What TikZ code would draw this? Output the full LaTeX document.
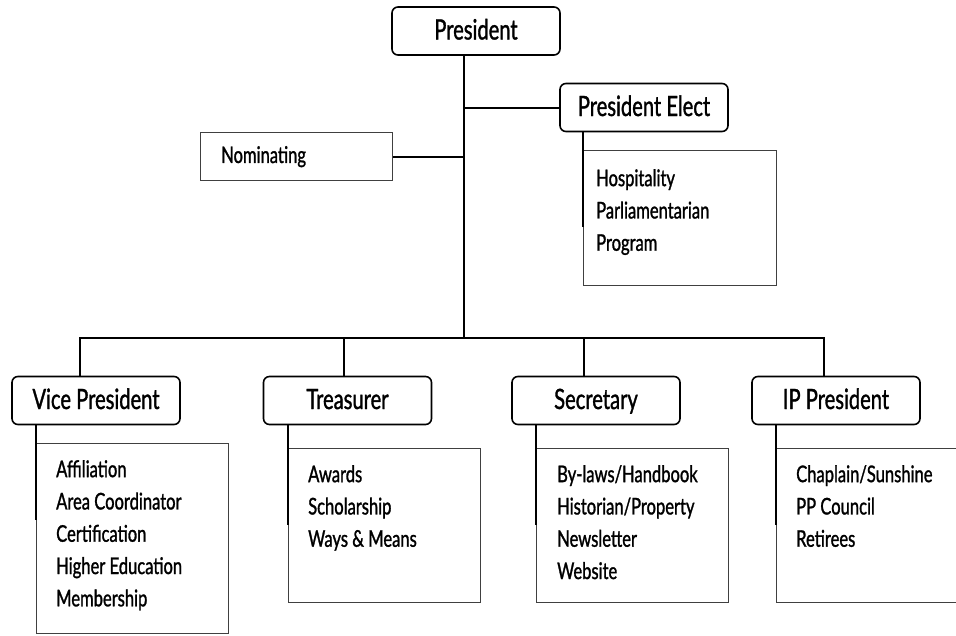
\documentclass[tikz,border=0pt]{standalone}
\usepackage{fontspec}
\setmainfont[FakeStretch=0.72,FakeBold=1.2]{Lato}
\usetikzlibrary{positioning,calc}
\tikzset{
  officer/.style = {shape=rectangle, rounded corners=6pt, draw, line width=1.6pt,
                    minimum width=168pt, minimum height=48pt, inner sep=0pt,
                    text height=21pt, text depth=4pt,
                    font=\fontsize{28}{30}\selectfont},
  cmtebox/.style = {shape=rectangle, draw=black!75, line width=1.3pt,
                    minimum width=192pt, anchor=north west, inner sep=0pt},
  cmtetext/.style = {align=left, anchor=north west, inner sep=0pt,
                     font=\fontsize{23}{32.3}\selectfont},
  link/.style    = {line width=2pt}
}

\begin{document}
\begin{tikzpicture}[x=1pt,y=-1pt]
\useasboundingbox (0,0) rectangle (956,635);
% officers
\node [officer] (pres)  at (476,31)    {President};
\node [officer] (elect) at (644,107.5) {President Elect};
\node [officer] (vp)    at (96,400.5)  {Vice President};
\node [officer] (treas) at (347.5,400.5) {Treasurer};
\node [officer] (sec)   at (596,400.5) {Secretary};
\node [officer] (ipp)   at (836,400.5) {IP President};
% committees
\node [cmtebox, minimum height=48pt] (nom) at (200,132) {};
\node [cmtetext, anchor=west] at ([xshift=21pt]nom.west) {Nominating};
\node [cmtebox, minimum width=193pt, minimum height=135pt] (electc) at (583,150) {};
\node [cmtetext] at ([shift={(13,19)}]electc.north west) {Hospitality\\Parliamentarian\\Program};
\node [cmtebox, minimum height=190pt] (vpc) at (36,443) {};
\node [cmtetext] at ([shift={(20,17)}]vpc.north west) {Affiliation\\Area Coordinator\\Certification\\Higher Education\\Membership};
\node [cmtebox, minimum height=154pt] (treasc) at (288,448) {};
\node [cmtetext] at ([shift={(20,17)}]treasc.north west) {Awards\\Scholarship\\Ways \& Means};
\node [cmtebox, minimum height=154pt] (secc) at (536,448) {};
\node [cmtetext] at ([shift={(21,17)}]secc.north west) {By-laws/Handbook\\Historian/Property\\Newsletter\\Website};
\node [cmtebox, minimum height=154pt] (ippc) at (776,448) {};
\node [cmtetext] at ([shift={(20,17)}]ippc.north west) {Chaplain/Sunshine\\PP Council\\Retirees};
% trunk and bus
\coordinate (bus) at (464,338);
\draw [link] (pres.south -| bus) -- (bus);
\draw [link] (bus |- elect) -- (elect.west);
\draw [link] (nom.east) -- (nom.east -| bus);
\draw [link] ([xshift=-16pt]vp.north) |- (bus) -| ([xshift=-12pt]ipp.north);
\draw [link] ([xshift=-3.5pt]treas.north) -- ([xshift=-3.5pt]treas.north |- bus);
\draw [link] ([xshift=-12pt]sec.north) -- ([xshift=-12pt]sec.north |- bus);
% officer to committee
\foreach \o/\c in {elect/electc, vp/vpc, treas/treasc, sec/secc, ipp/ippc}
  \draw [link] (\c.north west |- \o.south) -- ([yshift=-77pt]\c.north west);
\end{tikzpicture}
\end{document}
